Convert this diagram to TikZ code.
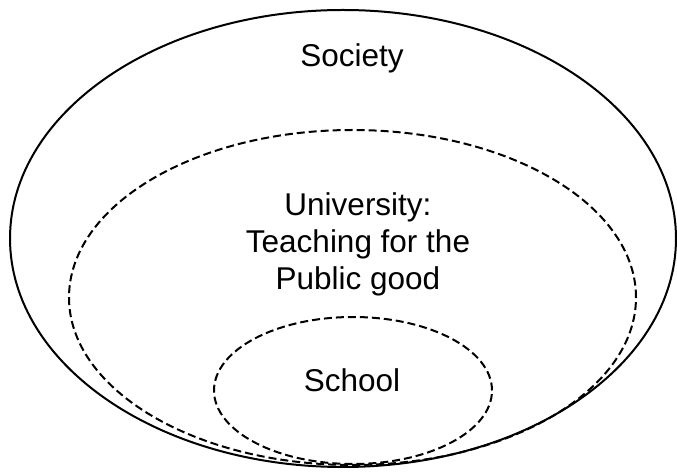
\documentclass[tikz,border=0pt]{standalone}
\usepackage{fontspec}
\setmainfont{Liberation Sans}
\begin{document}
\begin{tikzpicture}[x=1pt,y=1pt,
  solidring/.style={draw=black, line width=2pt},
  dashring/.style={draw=black, line width=2pt, dash pattern=on 8pt off 4pt},
  lbl/.style={font=\fontsize{31.5}{37}\selectfont, inner sep=0pt, align=center}]
\useasboundingbox (0,0) rectangle (677,471);
\draw[solidring] (343,232.5) ellipse [x radius=333, y radius=228.5];
\draw[dashring] (352.5,173.5) ellipse [x radius=283.5, y radius=167.5];
\draw[dashring] (353,80.5) ellipse [x radius=139, y radius=73.5];
\node[lbl, anchor=base] (society) at (352,404) {Society};
\node[lbl, anchor=center] (uni) at (358,227) {University:\\Teaching for the\\Public good};
\node[lbl, anchor=base] (school) at (352,79) {School};
\end{tikzpicture}
\end{document}
